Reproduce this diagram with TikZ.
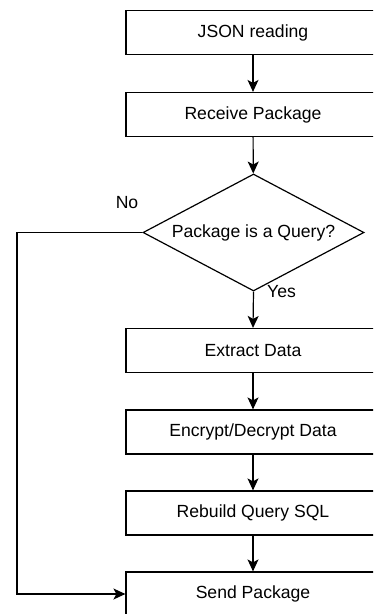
\documentclass[tikz,border=0pt]{standalone}
\usepackage{fontspec}
\setmainfont{Liberation Sans}
\usetikzlibrary{shapes.geometric,arrows.meta}
\begin{document}
\begin{tikzpicture}[x=1pt,y=-1pt,
  every node/.style={font=\fontsize{17.6}{21}\selectfont},
  box/.style={draw,line width=1.2pt,minimum width=254pt,minimum height=44pt,inner sep=0pt,anchor=center},
  dia/.style={draw,line width=1.2pt,shape=diamond,aspect=1.89,minimum width=221pt,minimum height=117pt,inner sep=0pt},
  arr/.style={draw,line width=1.2pt,-{Stealth[length=12pt,width=11pt,inset=3pt]}},
  lbl/.style={inner sep=0pt}]
\useasboundingbox (0,0) rectangle (373,614);
\clip (0,0) rectangle (373,614);
\node[box] (json) at (253,32.5) {JSON reading};
\node[box] (recv) at (253,114.5) {Receive Package};
\node[dia] (q) at (253.5,232.5) {Package is a Query?};
\node[box] (extr) at (253,350.5) {Extract Data};
\node[box] (enc) at (253,432) {Encrypt/Decrypt Data};
\node[box] (reb) at (253,513) {Rebuild Query SQL};
\node[box] (send) at (253,594) {Send Package};
\coordinate (corner) at (17,232.5);
\draw[arr] (json) -- (recv);
\draw[arr] (recv) -- (q);
\draw[arr] (q.south) -- (extr.north);
\draw[arr] (extr) -- (enc);
\draw[arr] (enc) -- (reb);
\draw[arr] (reb) -- (send);
\draw[arr] (q.west) -- (corner) |- (send.west);
\node[lbl] (no) at (127,203) {No};
\node[lbl,anchor=west] (yes) at (267,292) {Yes};
\end{tikzpicture}
\end{document}
